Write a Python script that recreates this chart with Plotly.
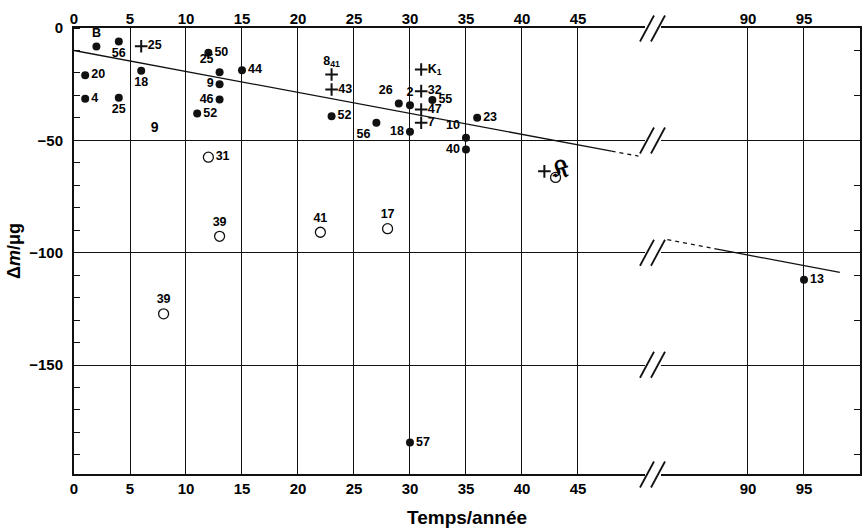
import plotly.graph_objects as go

# ---------------- data ----------------
# filled circles (left segment of the broken time axis)
dot_x = [2, 4, 1, 6, 1, 4, 12, 13, 15, 13, 13, 11, 23, 29, 30, 32, 27, 30, 36, 35, 35, 30]
dot_y = [-8.2, -6, -21, -19, -31.5, -31, -11, -19.7, -18.8, -25, -31.8, -38, -39.3,
         -33.6, -34.4, -32.1, -42.2, -46.2, -40, -48.9, -54.1, -184.5]
dot_lbl = ["B", "56", "20", "18", "4", "25", "50", "25", "44", "9", "46", "52", "52",
           "26", "2", "55", "56", "18", "23", "10", "40", "57"]
dot_pos = ["top center", "bottom center", "middle right", "bottom center", "middle right",
           "bottom center", "middle right", "top left", "middle right", "middle left",
           "middle left", "middle right", "middle right", "top left", "top center",
           "middle right", "bottom left", "middle left", "middle right", "top left",
           "middle left", "middle right"]

# filled circle on the right segment
dot2_x = [95]
dot2_y = [-112]
dot2_lbl = ["13"]

# labelled crosses
plus_x = [6, 23, 23, 31, 31, 31, 31]
plus_y = [-8.1, -20.7, -27.4, -18.5, -28.1, -36.3, -42.2]
plus_lbl = ["25", "8<sub>41</sub>", "43", "K<sub>1</sub>", "32", "47", "7"]
plus_pos = ["middle right", "top center", "middle right", "middle right", "middle right",
            "middle right", "middle right"]

# labelled open circles
open_x = [12, 13, 8, 22, 28]
open_y = [-57.5, -92.7, -127.2, -90.9, -89.3]
open_lbl = ["31", "39", "39", "41", "17"]
open_pos = ["middle right", "top center", "top center", "top center", "top center"]

# unlabelled marks (cross and open circle near 42-43 years)
plus_u_x, plus_u_y = [42], [-63.8]
open_u_x, open_u_y = [43], [-66.5]

# lone labels without a marker
lone_x = [7.2, 43.5]
lone_y = [-44.8, -63.5]
lone_lbl = ["9", "𝔎"]
lone_size = [14, 24]

# regression lines
fitL_solid_x, fitL_solid_y = [0, 48], [-10, -54.8]
fitL_dash_x, fitL_dash_y = [48, 50.4], [-54.8, -57]
fitR_dash_x, fitR_dash_y = [82.8, 87], [-94.2, -98.2]
fitR_solid_x, fitR_solid_y = [87, 98.2], [-98.2, -108.8]

left_ticks = [0, 5, 10, 15, 20, 25, 30, 35, 40, 45]
right_ticks = [90, 95]
y_ticks = [0, -50, -100, -150]

# ---------------- layout geometry ----------------
W, H = 864, 531
L, R, T, B = 74, 4, 28, 57
PX0, PX1 = L, W - R
PY0, PY1 = T, H - B
split = (653 - PX0) / (PX1 - PX0)

FONT = "Liberation Sans"
lblfont = dict(family=FONT, size=12.5, color="black", weight="bold")
ink = "#111111"

fig = go.Figure()

fig.add_trace(go.Scatter(x=dot_x, y=dot_y, mode="markers+text", text=dot_lbl,
                         textposition=dot_pos, textfont=lblfont,
                         marker=dict(size=8, color=ink), xaxis="x", yaxis="y"))
fig.add_trace(go.Scatter(x=plus_x, y=plus_y, mode="markers+text", text=plus_lbl,
                         textposition=plus_pos, textfont=lblfont,
                         marker=dict(symbol="cross-thin", size=9, color=ink,
                                     line=dict(width=2, color=ink)),
                         xaxis="x", yaxis="y"))
fig.add_trace(go.Scatter(x=plus_u_x, y=plus_u_y, mode="markers",
                         marker=dict(symbol="cross-thin", size=9, color=ink,
                                     line=dict(width=2, color=ink)),
                         xaxis="x", yaxis="y"))
fig.add_trace(go.Scatter(x=open_x, y=open_y, mode="markers+text", text=open_lbl,
                         textposition=open_pos, textfont=lblfont,
                         marker=dict(symbol="circle-open", size=10, color=ink,
                                     line=dict(width=1.3, color=ink)),
                         xaxis="x", yaxis="y"))
fig.add_trace(go.Scatter(x=open_u_x, y=open_u_y, mode="markers",
                         marker=dict(symbol="circle-open", size=10, color=ink,
                                     line=dict(width=1.3, color=ink)),
                         xaxis="x", yaxis="y"))
fig.add_trace(go.Scatter(x=lone_x, y=lone_y, mode="text", text=lone_lbl,
                         textposition="middle center",
                         textfont=dict(family=FONT, size=lone_size, color="black", weight="bold"),
                         xaxis="x", yaxis="y"))
fig.add_trace(go.Scatter(x=fitL_solid_x, y=fitL_solid_y, mode="lines",
                         line=dict(color=ink, width=1.3), xaxis="x", yaxis="y"))
fig.add_trace(go.Scatter(x=fitL_dash_x, y=fitL_dash_y, mode="lines",
                         line=dict(color=ink, width=1.3, dash="4px,4px"), xaxis="x", yaxis="y"))
fig.add_trace(go.Scatter(x=dot2_x, y=dot2_y, mode="markers+text", text=dot2_lbl,
                         textposition="middle right", textfont=lblfont,
                         marker=dict(size=8, color=ink), xaxis="x2", yaxis="y"))
fig.add_trace(go.Scatter(x=fitR_dash_x, y=fitR_dash_y, mode="lines",
                         line=dict(color=ink, width=1.3, dash="4px,4px"), xaxis="x2", yaxis="y"))
fig.add_trace(go.Scatter(x=fitR_solid_x, y=fitR_solid_y, mode="lines",
                         line=dict(color=ink, width=1.3), xaxis="x2", yaxis="y"))
# invisible traces so the top label axes and right-hand y axis are drawn
fig.add_trace(go.Scatter(x=[None], y=[None], xaxis="x3", yaxis="y", showlegend=False))
fig.add_trace(go.Scatter(x=[None], y=[None], xaxis="x4", yaxis="y2", showlegend=False))

tickfont = dict(family=FONT, size=15, color="black", weight="bold")
xrangeL = [0, 51.7]
xrangeR = [81.52, 100]

common_x = dict(showgrid=True, gridcolor=ink, gridwidth=1.2, zeroline=False,
                tickfont=tickfont, ticks="", showline=True, linecolor=ink, linewidth=1.6,
                mirror=True)
fig.update_layout(
    width=W, height=H, showlegend=False,
    paper_bgcolor="white", plot_bgcolor="white",
    margin=dict(l=L, r=R, t=T, b=B, autoexpand=False),
    xaxis=dict(domain=[0, split], range=xrangeL, tickvals=left_ticks, anchor="y", **common_x),
    xaxis2=dict(domain=[split, 1], range=xrangeR, tickvals=right_ticks, anchor="y", **common_x),
    xaxis3=dict(overlaying="x", side="top", range=xrangeL, tickvals=left_ticks, anchor="y",
                showgrid=False, zeroline=False, showline=False, ticks="", tickfont=tickfont),
    xaxis4=dict(overlaying="x2", side="top", range=xrangeR, tickvals=right_ticks, anchor="y",
                showgrid=False, zeroline=False, showline=False, ticks="", tickfont=tickfont),
    yaxis=dict(range=[-198.5, 0], tickvals=y_ticks, anchor="x", showgrid=True,
               gridcolor=ink, gridwidth=1.2, zeroline=False, showline=True, linecolor=ink,
               linewidth=2, ticks="", tickfont=tickfont, ticklabelstandoff=6,
               minor=dict(dtick=10, tick0=0, ticks="inside", ticklen=6, tickcolor=ink,
                          tickwidth=1.2, showgrid=False),
               title=dict(text="<b>Δ<i>m</i>/μg</b>", standoff=4,
                          font=dict(family=FONT, size=18, color="black"))),
    yaxis2=dict(overlaying="y", side="right", anchor="x2", range=[-198.5, 0], matches="y",
                showgrid=False, zeroline=False, showline=True, linecolor=ink, linewidth=2,
                showticklabels=False, ticks="",
                minor=dict(dtick=10, tick0=0, ticks="inside", ticklen=6, tickcolor=ink,
                           tickwidth=1.2, showgrid=False)),
)

fig.add_annotation(text="<b>Temps/année</b>", xref="paper", yref="paper",
                   x=0.5, y=(PY1 - 517) / (PY1 - PY0), yanchor="middle", showarrow=False,
                   font=dict(family=FONT, size=19, color="black"))


def px(xp):
    return (xp - PX0) / (PX1 - PX0)


def py(yp):
    return (PY1 - yp) / (PY1 - PY0)


# break marks "//" on each horizontal line at the axis break
for yl in [28.5, 140.5, 252.7, 364.7, 474.5]:
    fig.add_shape(type="line", xref="paper", yref="paper", x0=px(645), x1=px(661),
                  y0=py(yl), y1=py(yl), line=dict(color="white", width=5))
    for dx in (0, 11):
        fig.add_shape(type="line", xref="paper", yref="paper",
                      x0=px(640 + dx), y0=py(yl + 13), x1=px(654 + dx), y1=py(yl - 13),
                      line=dict(color=ink, width=1.8))

fig.write_html("out.html", config={"displayModeBar": False},
               post_script="document.body.style.margin='0px';document.body.style.overflow='hidden';")
